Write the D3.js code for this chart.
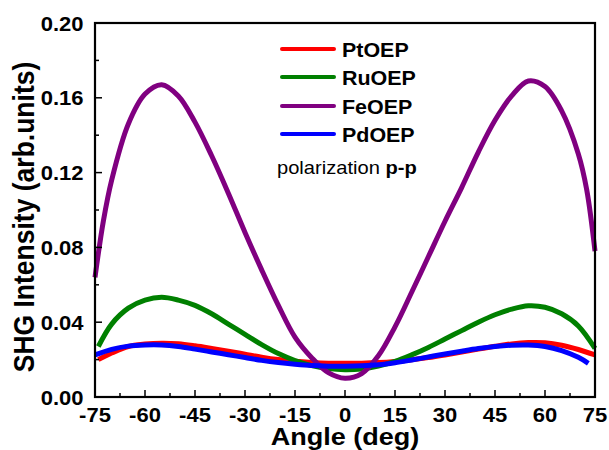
<!DOCTYPE html>
<html><head><meta charset="utf-8">
<script src="https://cdn.jsdelivr.net/npm/d3@7"></script>
<style>body{margin:0;background:#fff}svg{display:block}</style>
</head><body><svg id="c" width="609" height="450"></svg>
<script>
const seriesNames = ["PtOEP","RuOEP","FeOEP","PdOEP"];
const seriesColors = ["#ff0000","#008000","#800080","#0000ff"];
const ptAngles = [-74,-70,-65,-60,-55,-50,-45,-40,-35,-30,-25,-20,-15,-10,-5,0,5,10,15,20,25,30,35,40,45,50,55,60,65,70,75];
const ptValues = [0.020,0.0235,0.027,0.0283,0.0288,0.0285,0.0274,0.026,0.0245,0.0229,0.0213,0.0200,0.0191,0.0185,0.0181,0.0180,0.0181,0.0184,0.0190,0.0199,0.0211,0.0225,0.0240,0.0256,0.0271,0.0284,0.0291,0.0290,0.0277,0.0254,0.0225];
const ruAngles = [-74,-70,-65,-60,-55,-50,-45,-40,-35,-30,-25,-20,-15,-10,-5,0,5,10,15,20,25,30,35,40,45,50,55,60,65,70,75];
const ruValues = [0.027,0.039,0.0475,0.0518,0.0533,0.0518,0.0490,0.0445,0.0390,0.0335,0.0280,0.0232,0.0195,0.0168,0.0152,0.0146,0.0150,0.0165,0.0190,0.0225,0.0265,0.0310,0.0355,0.0400,0.0440,0.0470,0.0488,0.0480,0.0445,0.0380,0.026];
const feAngles = [-75,-72.5,-70,-65,-60,-55,-50,-45,-40,-35,-30,-25,-20,-15,-10,-5,0,5,10,15,20,25,30,35,40,45,50,55,60,65,70,72.5,75];
const feValues = [0.064,0.094,0.116,0.146,0.162,0.167,0.161,0.147,0.129,0.109,0.088,0.068,0.049,0.032,0.021,0.013,0.010,0.0125,0.022,0.0375,0.056,0.075,0.094,0.112,0.131,0.148,0.161,0.169,0.166,0.153,0.130,0.111,0.078];
const pdAngles = [-75,-70,-65,-60,-55,-50,-45,-40,-35,-30,-25,-20,-15,-10,-5,0,5,10,15,20,25,30,35,40,45,50,55,60,65,70,73];
const pdValues = [0.0225,0.0255,0.0272,0.0278,0.0278,0.0270,0.0256,0.0241,0.0226,0.0211,0.0196,0.0184,0.0175,0.0168,0.0165,0.0165,0.0167,0.0172,0.0183,0.0198,0.0214,0.0230,0.0245,0.0259,0.0270,0.0277,0.0278,0.0270,0.0248,0.0212,0.018];
const xTicks = [-75,-60,-45,-30,-15,0,15,30,45,60,75];
const yTicks = [0.00,0.04,0.08,0.12,0.16,0.20];
const xLabel = "Angle (deg)";
const yLabel = "SHG Intensity (arb.units)";
const noteText = "polarization ";
const noteBold = "p-p";

const seriesData = [
  d3.zip(ptAngles, ptValues),
  d3.zip(ruAngles, ruValues),
  d3.zip(feAngles, feValues),
  d3.zip(pdAngles, pdValues)
];

const svg = d3.select("#c");
const L = 95, R = 595, T = 23, B = 397;
const x = d3.scaleLinear().domain([-75,75]).range([L,R]);
const y = d3.scaleLinear().domain([0,0.20]).range([B,T]);
const font = "'Liberation Sans', Arial, sans-serif";
const SX = 1.1;

function txt(px, py, str, size, weight, anchor, sx, rot) {
  return svg.append("text")
    .attr("transform", `translate(${px},${py}) scale(${sx},1)` + (rot ? ` rotate(${rot})` : ""))
    .attr("text-anchor", anchor).attr("font-family", font)
    .attr("font-weight", weight).attr("font-size", size).text(str);
}

// curves
const line = d3.line().x(d=>x(d[0])).y(d=>y(d[1])).curve(d3.curveCatmullRom.alpha(0.5));
const g = svg.append("g");
seriesData.forEach((s,i)=>{
  g.append("path").attr("d", line(s)).attr("fill","none")
   .attr("stroke", seriesColors[i]).attr("stroke-width",5).attr("stroke-linecap","butt")
   .attr("stroke-linejoin","round");
});

// frame
svg.append("rect").attr("x",L).attr("y",T).attr("width",R-L).attr("height",B-T)
  .attr("fill","none").attr("stroke","#000").attr("stroke-width",2.2);

// x axis ticks (inward)
const xMinor = d3.range(-75, 75.01, 7.5);
svg.append("g").selectAll("line").data(xMinor).join("line")
  .attr("x1",d=>x(d)).attr("x2",d=>x(d)).attr("y1",B)
  .attr("y2",d=> (Math.abs(d % 15) < 1e-6) ? B-7 : B-4)
  .attr("stroke","#000").attr("stroke-width",1.5);
xTicks.forEach(d=> txt(x(d), 422, d3.format("d")(d).replace("\u2212","-"), 20, "bold", "middle", SX));

// y axis ticks
const yMinor = d3.range(0, 0.2001, 0.02);
svg.append("g").selectAll("line").data(yMinor).join("line")
  .attr("y1",d=>y(d)).attr("y2",d=>y(d)).attr("x1",L)
  .attr("x2",(d,i)=> i%2===0 ? L+7 : L+4)
  .attr("stroke","#000").attr("stroke-width",1.5);
yTicks.forEach(d=> txt(83.5, y(d)+7.5, d3.format(".2f")(d), 20, "bold", "end", SX));

// axis titles
txt(345, 445, xLabel, 23.5, "bold", "middle", 1.15);
txt(33.5, 217, yLabel, 26.5, "bold", "middle", SX, -90);

// legend
const legY = [49,77,106,134];
seriesNames.forEach((n,i)=>{
  svg.append("line").attr("x1",282).attr("x2",334).attr("y1",legY[i]).attr("y2",legY[i])
    .attr("stroke",seriesColors[i]).attr("stroke-width",4).attr("stroke-linecap","round");
  txt(342, legY[i]+8.3, n, 19.5, "bold", "start", SX);
});
const note = svg.append("text").attr("transform","translate(277,174) scale(1.15,1)")
  .attr("font-family",font).attr("font-size",17.5);
note.append("tspan").text(noteText);
note.append("tspan").attr("font-weight","bold").text(noteBold);
</script></body></html>
